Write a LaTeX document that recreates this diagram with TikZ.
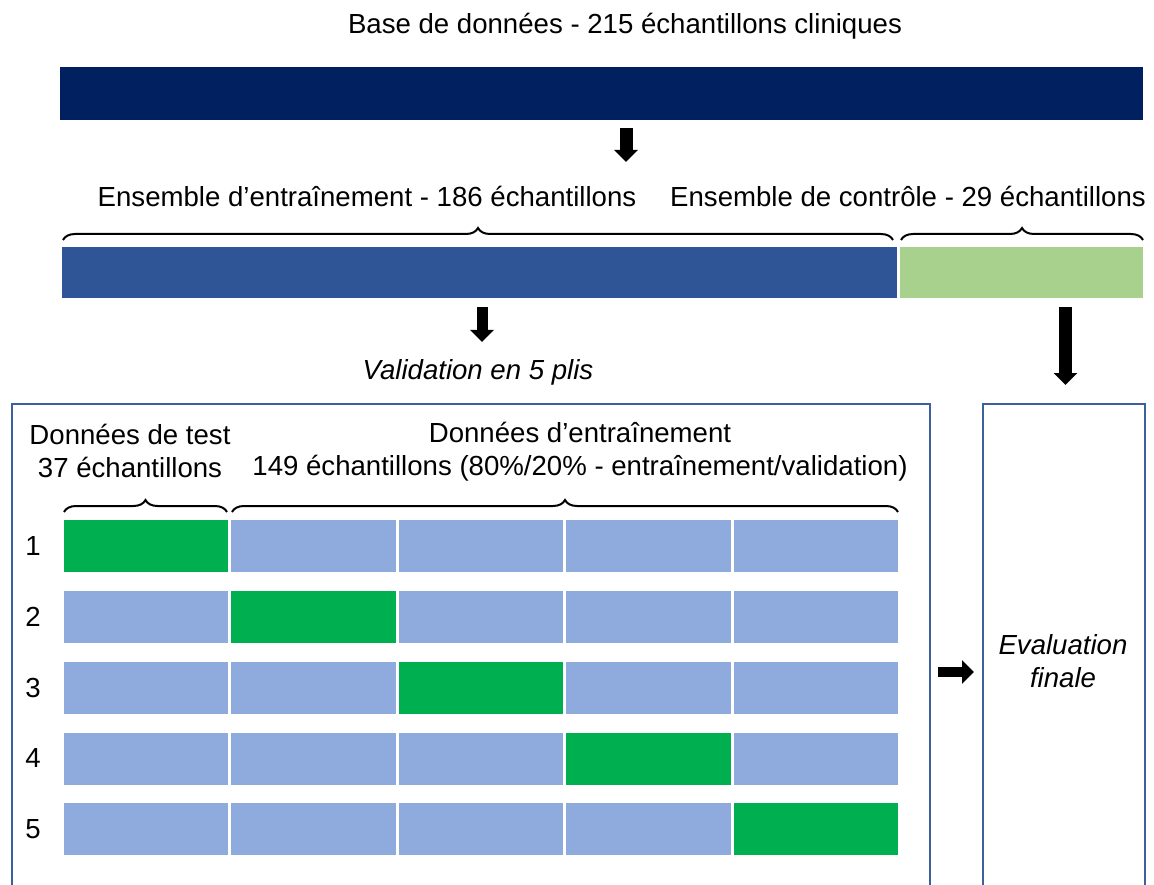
\documentclass[tikz,border=0pt]{standalone}
\usepackage{fontspec}
\setmainfont{Liberation Sans}
\usetikzlibrary{arrows.meta,decorations.pathreplacing}
\definecolor{navy}{HTML}{002060}
\definecolor{midblue}{HTML}{2F5597}
\definecolor{lgreen}{HTML}{A9D18E}
\definecolor{vgreen}{HTML}{00B050}
\definecolor{lblue}{HTML}{8FAADC}
\definecolor{frameblue}{HTML}{3C5FA0}
\tikzset{
  bar/.style={draw=none, anchor=north west, inner sep=0pt, outer sep=0pt},
  lbl/.style={font=\fontsize{27.6}{33}\selectfont, inner sep=0pt, align=center},
  ilbl/.style={lbl, font=\fontsize{27.6}{33}\selectfont\itshape},
  brc/.style={decorate, decoration={brace, amplitude=12pt}, line width=2pt},
  blk/.style={line width=#1, -{Triangle[width=23pt,length=12pt]}},
  blk/.default=13pt,
  frame/.style={draw=frameblue, line width=2pt},
  cell/.style={bar, minimum width=164.5pt, minimum height=52pt},
}
\begin{document}
\begin{tikzpicture}[x=1pt,y=-1pt]
\useasboundingbox (0,0) rectangle (1154,885);
\clip (0,0) rectangle (1154,885);
% title
\node[lbl] (title) at (625,26) {Base de données - 215 échantillons cliniques};
\node[bar, fill=navy, minimum width=1083pt, minimum height=53pt] (db) at (60,67) {};
% arrow 1
\coordinate (a1s) at (626,128);
\coordinate (a1e) at (626,162);
\draw[blk] (a1s) -- (a1e);
% labels
\node[lbl] (trainlbl) at (367,196) {Ensemble d’entraînement - 186 échantillons};
\node[lbl] (ctrllbl) at (908,196) {Ensemble de contrôle - 29 échantillons};
% braces
\coordinate (b1l) at (63,240); \coordinate (b1r) at (893,240);
\coordinate (b2l) at (901,240); \coordinate (b2r) at (1143,240);
\draw[brc] (b1l) -- (b1r);
\draw[brc] (b2l) -- (b2r);
% split bar
\node[bar, fill=midblue, minimum width=835pt, minimum height=51pt] (train) at (62,247) {};
\node[bar, fill=lgreen, minimum width=243pt, minimum height=51pt] (ctrl) at (900,247) {};
% arrows 2 and 3
\coordinate (a2s) at (482,307);
\coordinate (a2e) at (482,342);
\draw[blk=11pt] (a2s) -- (a2e);
\coordinate (a3s) at (1065.5,307);
\coordinate (a3e) at (1065.5,385);
\draw[blk] (a3s) -- (a3e);
\node[ilbl] (cv) at (478,372) {Validation en 5 plis};
% frames
\draw[frame] (11.5,895) -- (11.5,404) -- (930,404) -- (930,895);
\draw[frame] (983,895) -- (983,404) -- (1144.5,404) -- (1144.5,895);
% fold headers
\node[lbl] (testlbl) at (130,451) {Données de test\\37 échantillons};
\node[lbl] (trlbl) at (580,452) {Données d’entraînement\\149 échantillons (80\%/20\% - entraînement/validation)};
\coordinate (b3l) at (64,512); \coordinate (b3r) at (227,512);
\coordinate (b4l) at (232,512); \coordinate (b4r) at (898,512);
\draw[brc] (b3l) -- (b3r);
\draw[brc] (b4l) -- (b4r);
% folds
\foreach \r/\y in {1/520,2/590.5,3/661.5,4/732.5,5/803} {
  \node[lbl] (n\r) at (33,\y+26) {\r};
  \foreach \c in {1,...,5} {
    \pgfmathsetmacro{\xx}{63.5+(\c-1)*167.6}
    \ifnum\c=\r
      \node[cell, fill=vgreen] (f\r-\c) at (\xx,\y) {};
    \else
      \node[cell, fill=lblue] (f\r-\c) at (\xx,\y) {};
    \fi
  }
}
% arrow 4
\coordinate (a4s) at (938,672);
\coordinate (a4e) at (974,672);
\draw[blk=10pt] (a4s) -- (a4e);
\node[ilbl] (eval) at (1063,661) {Evaluation\\finale};
\end{tikzpicture}
\end{document}
